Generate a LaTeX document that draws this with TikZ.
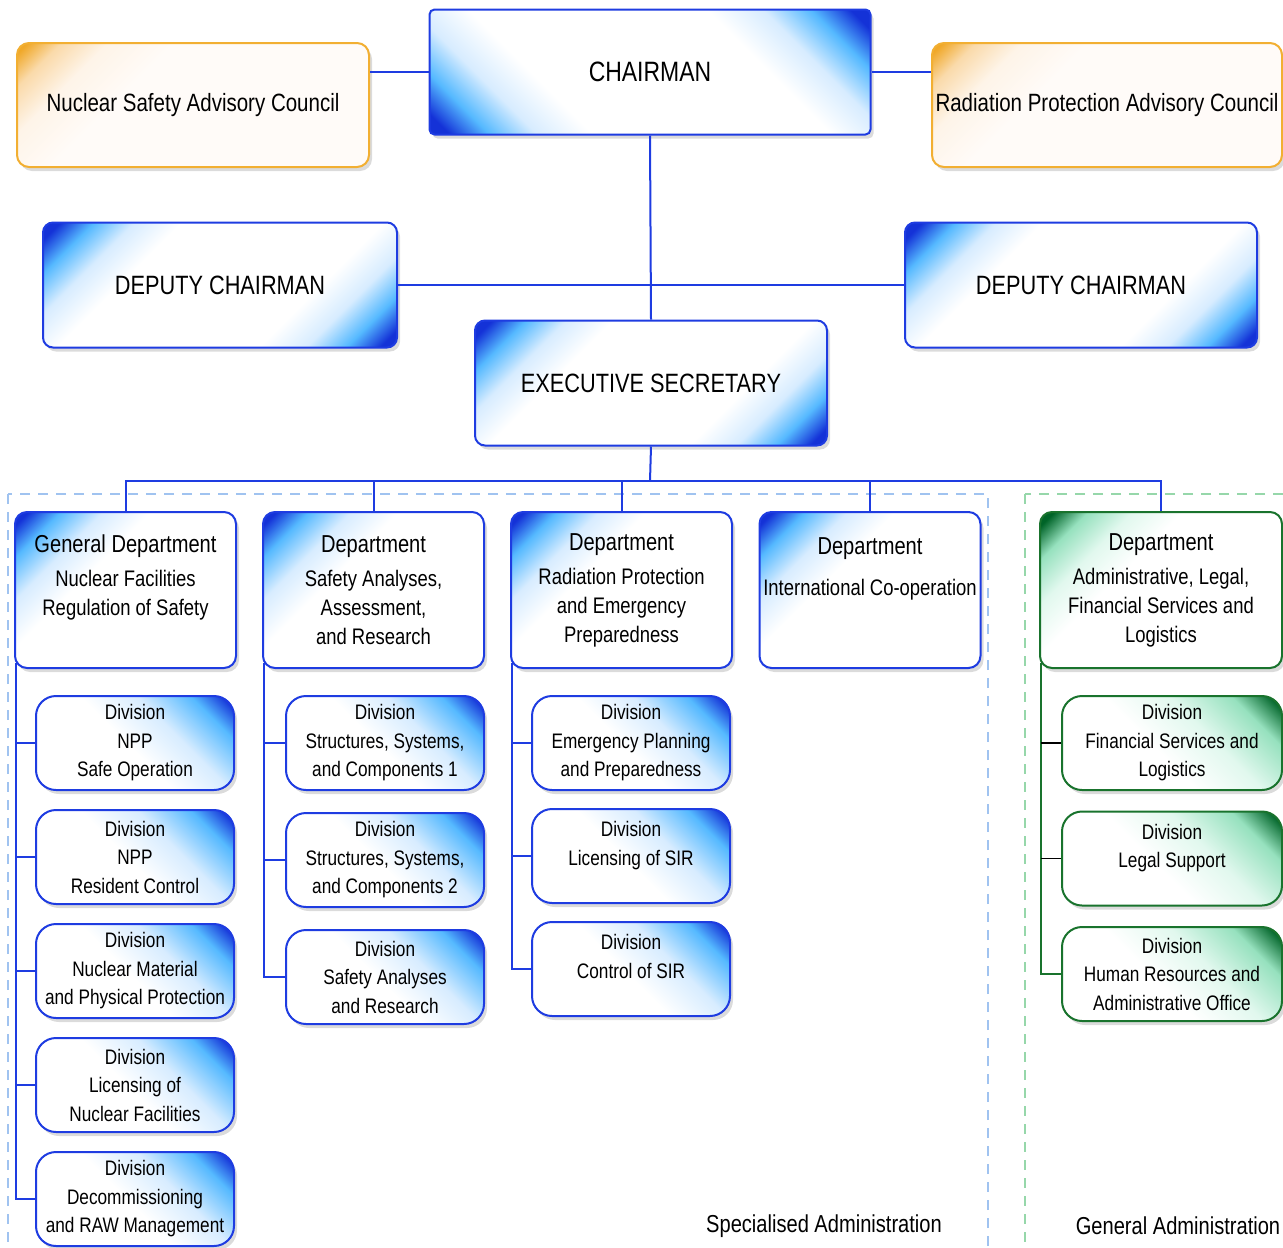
\documentclass[tikz,border=0pt]{standalone}
\usepackage{fontspec}
\setmainfont{Liberation Sans}[FakeStretch=0.82]
\usepackage{tikz}
\usetikzlibrary{arrows, positioning, shadows, calc}

\definecolor{linkblue}{RGB}{30,60,225}
\definecolor{dkblue}{RGB}{20,50,215}
\definecolor{skyb}{RGB}{85,185,255}
\definecolor{paleb}{RGB}{215,236,255}
\definecolor{linkgreen}{RGB}{25,115,45}
\definecolor{dkgreen}{RGB}{0,100,40}
\definecolor{mint}{RGB}{150,225,190}
\definecolor{palemint}{RGB}{225,248,238}
\definecolor{orangeline}{RGB}{242,175,50}
\definecolor{orangecore}{RGB}{240,168,40}
\definecolor{peach}{RGB}{250,218,170}
\definecolor{cream}{RGB}{254,244,232}
\definecolor{creamw}{RGB}{255,251,248}
\definecolor{zoneblue}{RGB}{160,195,240}
\definecolor{zonegreen}{RGB}{150,215,170}

\pgfdeclarehorizontalshading{divcorner}{100bp}{color(0bp)=(dkblue); color(17bp)=(dkblue); color(25bp)=(skyb); color(38bp)=(paleb); color(52bp)=(white); color(100bp)=(white)}
\pgfdeclarehorizontalshading{deptcorner}{100bp}{color(0bp)=(dkblue); color(17bp)=(dkblue); color(23bp)=(skyb); color(31bp)=(paleb); color(40bp)=(white); color(100bp)=(white)}
\pgfdeclarehorizontalshading{twocorner}{100bp}{color(0bp)=(dkblue); color(17bp)=(dkblue); color(22bp)=(skyb); color(28bp)=(paleb); color(35bp)=(white); color(65bp)=(white); color(72bp)=(paleb); color(78bp)=(skyb); color(83bp)=(dkblue); color(100bp)=(dkblue)}
\pgfdeclarehorizontalshading{gdivcorner}{100bp}{color(0bp)=(dkgreen); color(17bp)=(dkgreen); color(26bp)=(mint); color(40bp)=(palemint); color(55bp)=(white); color(100bp)=(white)}
\pgfdeclarehorizontalshading{gdeptcorner}{100bp}{color(0bp)=(dkgreen); color(17bp)=(dkgreen); color(23bp)=(mint); color(31bp)=(palemint); color(40bp)=(white); color(100bp)=(white)}
\pgfdeclarehorizontalshading{orangecorner}{100bp}{color(0bp)=(orangecore); color(16bp)=(orangecore); color(21bp)=(peach); color(28bp)=(cream); color(38bp)=(creamw); color(100bp)=(creamw)}

\begin{document}
\begin{tikzpicture}[x=1pt, y=-1pt, node distance=114pt,
    link/.style={draw=linkblue, line width=2pt},
    glink/.style={draw=linkgreen, line width=2pt},
    blink/.style={draw=black, line width=1.6pt},
    boxshadow/.style={drop shadow={shadow xshift=3pt, shadow yshift=-4pt, opacity=0.2, fill=black!70}},
    topbox/.style={rectangle, draw=linkblue, line width=2pt, shade, shading=twocorner, shading angle=-45, rounded corners=10pt, minimum width=354pt, minimum height=125pt, inner sep=0pt, font=\fontsize{26.5}{32}\selectfont, boxshadow},
    council/.style={rectangle, draw=orangeline, line width=2pt, shade, shading=orangecorner, shading angle=-45, rounded corners=12pt, minimum width=352pt, minimum height=124pt, inner sep=0pt, font=\fontsize{25}{30}\selectfont, boxshadow},
    dept/.style={rectangle, draw=linkblue, line width=2pt, shade, shading=deptcorner, shading angle=-45, rounded corners=12pt, minimum width=221pt, minimum height=156pt, inner sep=0pt, align=center, font=\fontsize{22.5}{29}\selectfont, boxshadow},
    gdept/.style={dept, draw=linkgreen, shading=gdeptcorner, minimum width=242pt},
    division/.style={rectangle, draw=linkblue, line width=2pt, shade, shading=divcorner, shading angle=-135, rounded corners=20pt, minimum width=198pt, minimum height=94pt, inner sep=0pt, align=center, font=\fontsize{21}{28.5}\selectfont, boxshadow},
    gdivision/.style={division, draw=linkgreen, shading=gdivcorner, minimum width=220pt},
    zone/.style={dash pattern=on 10pt off 8pt, line width=1.8pt},
    zonelabel/.style={font=\fontsize{24.5}{30}\selectfont}
  ]
    \useasboundingbox (0,0) rectangle (1283,1248);

    \draw[zone, draw=zoneblue] (8,494) rectangle (988,1262);
    \draw[zone, draw=zonegreen] (1025,494) rectangle (1295,1262);

    \node[topbox, rounded corners=5pt, minimum width=441pt, shading angle=45, font=\fontsize{28}{34}\selectfont] (chair) at (650,72) {CHAIRMAN};
    \node[council] (nsac) at (193,105) {Nuclear Safety Advisory Council};
    \node[council, minimum width=350pt] (rpac) at (1107,105) {Radiation Protection Advisory Council};
    \node[topbox] (dep1) at (220,285) {DEPUTY CHAIRMAN};
    \node[topbox, minimum width=352pt] (dep2) at (1081,285) {DEPUTY CHAIRMAN};
    \node[topbox, minimum width=352pt] (exec) at (651,383) {EXECUTIVE SECRETARY};

    \node[dept] (g1) at (125.5,590) {{\fontsize{24.5}{30}\selectfont General Department}\\[5pt]Nuclear Facilities\\Regulation of Safety\\[-8pt]\strut};
    \node[dept] (g2) at (373.5,590) {{\fontsize{24.5}{30}\selectfont Department}\\[5pt]Safety Analyses,\\Assessment,\\and Research};
    \node[dept] (g3) at (621.5,590) {{\fontsize{24.5}{30}\selectfont Department}\\[5pt]Radiation Protection\\and Emergency\\Preparedness};
    \node[dept] (g4) at (870,590) {{\fontsize{24.5}{30}\selectfont Department}\\[12pt]International Co-operation\\[10pt]\strut};
    \node[gdept] (g5) at (1161,590) {{\fontsize{24.5}{30}\selectfont Department}\\[5pt]Administrative, Legal,\\Financial Services and\\Logistics};

    \node[division] (d1a) at (135,743) {Division\\NPP\\Safe Operation};
    \node[division, below of=d1a] (d1b) {Division\\NPP\\Resident Control};
    \node[division, below of=d1b] (d1c) {Division\\Nuclear Material\\and Physical Protection};
    \node[division, below of=d1c] (d1d) {Division\\Licensing of\\Nuclear Facilities};
    \node[division, below of=d1d] (d1e) {Division\\Decommissioning\\and RAW Management};

    \node[division] (d2a) at (385,743) {Division\\Structures, Systems,\\and Components 1};
    \node[division, below of=d2a, node distance=117pt] (d2b) {Division\\Structures, Systems,\\and Components 2};
    \node[division, below of=d2b, node distance=117pt] (d2c) {Division\\Safety Analyses\\and Research};

    \node[division] (d3a) at (631,743) {Division\\Emergency Planning\\and Preparedness};
    \node[division, below of=d3a, node distance=113pt] (d3b) {Division\\Licensing of SIR\\[-12pt]\strut};
    \node[division, below of=d3b, node distance=113pt] (d3c) {Division\\Control of SIR\\[-12pt]\strut};

    \node[gdivision] (d5a) at (1172,743) {Division\\Financial Services and\\Logistics};
    \node[gdivision, below of=d5a, node distance=115.5pt] (d5b) {Division\\Legal Support\\[-12pt]\strut};
    \node[gdivision, below of=d5b, node distance=115.5pt] (d5c) {Division\\Human Resources and\\Administrative Office};

    \node[zonelabel] (spec) at (824,1226) {Specialised Administration};
    \node[zonelabel] (gen) at (1178,1226) {General Administration};

    \draw[link] (chair.west) -- (chair.west -| nsac.east);
    \draw[link] (chair.east) -- (chair.east -| rpac.west);
    \draw[link] (chair.south) -- (exec.north);
    \draw[link] (dep1.east) -- (dep2.west);

    \coordinate (bus) at (650,481);
    \draw[link] (exec.south) -- (bus);
    \draw[link] (g1.north) |- (bus) -| (g5.north);
    \foreach \g in {g2,g3,g4}
        \draw[link] (\g.north) -- (\g.north |- bus);

    \coordinate (v1) at ([xshift=2pt,yshift=6pt]g1.south west);
    \coordinate (v2) at ([xshift=2pt,yshift=6pt]g2.south west);
    \coordinate (v3) at ([xshift=2pt,yshift=6pt]g3.south west);
    \coordinate (v5) at ([xshift=2pt,yshift=6pt]g5.south west);
    \draw[link] (v1) |- (d1e.west);
    \foreach \d in {d1a,d1b,d1c,d1d}
        \draw[link] (\d.west) -- (\d.west -| v1);
    \draw[link] (v2) |- (d2c.west);
    \foreach \d in {d2a,d2b}
        \draw[link] (\d.west) -- (\d.west -| v2);
    \draw[link] (v3) |- (d3c.west);
    \foreach \d in {d3a,d3b}
        \draw[link] (\d.west) -- (\d.west -| v3);
    \draw[glink] (v5) |- (d5c.west);
    \foreach \d in {d5a,d5b}
        \draw[blink] (\d.west) -- (\d.west -| v5);
\end{tikzpicture}
\end{document}
